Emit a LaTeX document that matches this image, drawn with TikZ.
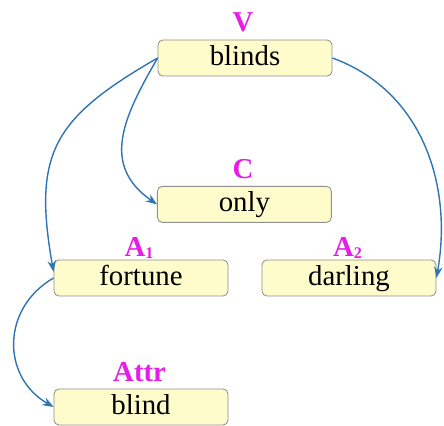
\documentclass[tikz,border=0pt]{standalone}
\usepackage{fontspec}
\setmainfont{Liberation Serif}
\usepackage{xcolor}
\usepackage{tikz}
\usetikzlibrary{arrows.meta, positioning, calc}
\definecolor{tagmagenta}{HTML}{E41EE4}
\definecolor{linkblue}{HTML}{2E75B6}
\definecolor{boxfill}{HTML}{FFFCCB}
\definecolor{boxedge}{HTML}{8F8F8F}

\tikzset{
  wordbox/.style={draw=boxedge, line width=0.6pt, fill=boxfill, rounded corners=3.5pt,
    minimum width=4.35cm, minimum height=0.9cm, inner sep=0pt,
    font=\fontsize{20.5}{24}\selectfont, text height=14pt, text depth=4pt},
  roletag/.style={anchor=base, text=tagmagenta, inner sep=0pt,
    font=\fontsize{20.5}{24}\selectfont\bfseries},
  deplink/.style={draw=linkblue, line width=1pt, -{Stealth[length=8pt,width=6pt]}}
}
\newcommand{\subidx}[1]{\raisebox{-0.05em}{\fontsize{11.5}{11.5}\selectfont #1}}

\begin{document}
\begin{tikzpicture}
  \useasboundingbox (0,0) rectangle (11.1,10.65);
  % words
  \node[wordbox] (blinds) at (6.125,9.2) {blinds};
  \node[wordbox] (only) at (6.11,5.54) {only};
  \node[wordbox] (fortune) at (3.525,3.7) {fortune};
  \node[wordbox] (darling) at (8.725,3.7) {darling};
  \node[wordbox] (blind) at (3.525,0.475) {blind};
  % role tags above the words
  \node[roletag] (tagV) at (6.075,9.85) {V};
  \node[roletag] (tagC) at (6.075,6.175) {C};
  \node[roletag] (tagA1) at (3.475,4.225) {A\subidx{1}};
  \node[roletag] (tagA2) at (8.69,4.225) {A\subidx{2}};
  \node[roletag] (tagAttr) at (3.49,1.1) {Attr};
  % dependency arcs
  \draw[deplink] (blinds.west) to[out=210, in=100, looseness=1.3] (fortune.176);
  \draw[deplink] (blinds.west) to[out=240, in=145, looseness=1.2] (only.west);
  \draw[deplink] (blinds.east) to[out=-20, in=80] (darling.east);
  \draw[deplink] (fortune.west) to[out=210, in=150, looseness=1.2] (blind.west);
\end{tikzpicture}
\end{document}
